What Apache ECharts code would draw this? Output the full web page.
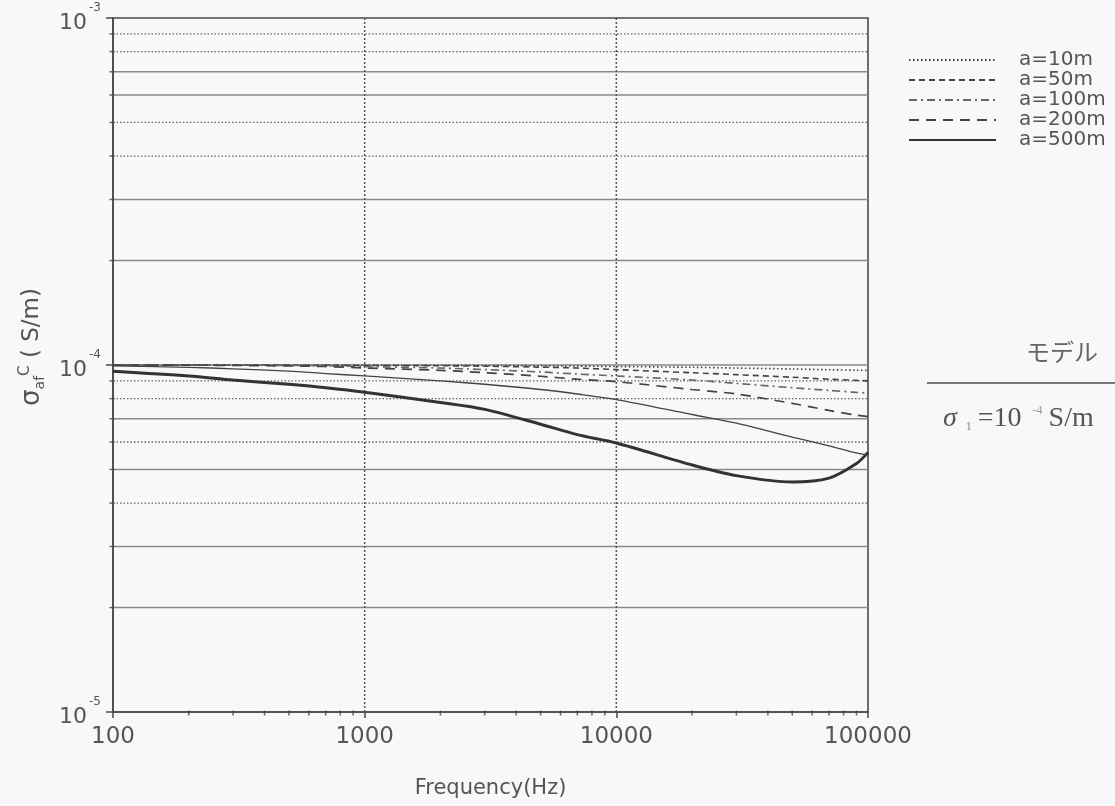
<!DOCTYPE html>
<html>
<head>
<meta charset="utf-8">
<script src="https://cdn.jsdelivr.net/npm/echarts@6/dist/echarts.min.js"></script>
<style>html,body{margin:0;padding:0;background:#f8f7f9;}#c{width:1115px;height:806px;}</style>
</head>
<body>
<div id="c"></div>
<script>
// ---- data ----
var freq = [100, 200, 300, 500, 700, 1000, 2000, 3000, 5000, 7000, 10000, 20000, 30000, 50000, 70000, 90000, 100000];
var a10  = [1.0e-4, 1.0e-4, 1.0e-4, 1.0e-4, 1.0e-4, 9.99e-5, 9.98e-5, 9.97e-5, 9.95e-5, 9.93e-5, 9.9e-5, 9.85e-5, 9.8e-5, 9.74e-5, 9.69e-5, 9.66e-5, 9.65e-5];
var a50  = [1.0e-4, 1.0e-4, 1.0e-4, 9.99e-5, 9.98e-5, 9.97e-5, 9.95e-5, 9.92e-5, 9.86e-5, 9.8e-5, 9.7e-5, 9.5e-5, 9.38e-5, 9.22e-5, 9.1e-5, 9.03e-5, 9.0e-5];
var a100 = [1.0e-4, 1.0e-4, 9.99e-5, 9.97e-5, 9.95e-5, 9.9e-5, 9.8e-5, 9.7e-5, 9.55e-5, 9.42e-5, 9.3e-5, 9.05e-5, 8.85e-5, 8.6e-5, 8.45e-5, 8.34e-5, 8.3e-5];
var a200 = [1.0e-4, 9.99e-5, 9.97e-5, 9.94e-5, 9.9e-5, 9.8e-5, 9.65e-5, 9.5e-5, 9.28e-5, 9.1e-5, 8.95e-5, 8.5e-5, 8.25e-5, 7.75e-5, 7.4e-5, 7.17e-5, 7.1e-5];
var thin = [9.95e-5, 9.85e-5, 9.75e-5, 9.6e-5, 9.45e-5, 9.3e-5, 9.0e-5, 8.8e-5, 8.5e-5, 8.25e-5, 7.95e-5, 7.2e-5, 6.8e-5, 6.2e-5, 5.85e-5, 5.58e-5, 5.5e-5];
var a500 = [9.6e-5, 9.3e-5, 9.05e-5, 8.8e-5, 8.6e-5, 8.35e-5, 7.8e-5, 7.45e-5, 6.75e-5, 6.3e-5, 5.96e-5, 5.15e-5, 4.8e-5, 4.6e-5, 4.72e-5, 5.2e-5, 5.6e-5];
var seriesNames = ['a=10m', 'a=50m', 'a=100m', 'a=200m', 'a=500m'];
var gridDotted = [9e-4, 8e-4, 5e-4, 4e-4, 9e-5, 8e-5, 6e-5, 4e-5];
var gridSolid = [7e-4, 6e-4, 3e-4, 2e-4, 1e-4, 7e-5, 5e-5, 3e-5, 2e-5];
var xGridDotted = [1000, 10000];
var xMinor = [200, 300, 400, 500, 600, 700, 800, 900, 2000, 3000, 4000, 5000, 6000, 7000, 8000, 9000, 20000, 30000, 40000, 50000, 60000, 70000, 80000, 90000];
var yMinor = [2e-5, 3e-5, 4e-5, 5e-5, 6e-5, 7e-5, 8e-5, 9e-5, 2e-4, 3e-4, 4e-4, 5e-4, 6e-4, 7e-4, 8e-4, 9e-4];
var xMin = 100, xMax = 100000, yMin = 1e-5, yMax = 1e-3;

function pairs(arr) { return freq.map(function (f, i) { return [f, arr[i]]; }); }

var chart = echarts.init(document.getElementById('c'), null, {renderer: 'canvas'});
var sans = 'DejaVu Sans';
var txt = '#555';

var lineStyles = [
  {color: '#444', width: 1.6, type: [1.5, 2.5]},
  {color: '#444', width: 1.6, type: [6, 4]},
  {color: '#666', width: 1.6, type: [8, 4, 2, 4]},
  {color: '#444', width: 1.7, type: [10, 7]},
  {color: '#333', width: 3, type: 'solid'}
];
var dataSets = [a10, a50, a100, a200, a500];

var series = [];
// gridlines as plain two-point line series
gridDotted.forEach(function (v) {
  series.push({type: 'line', silent: true, symbol: 'none', z: 1, data: [[xMin, v], [xMax, v]],
    lineStyle: {color: '#666', width: 1.3, type: [1.5, 2]}});
});
gridSolid.forEach(function (v) {
  series.push({type: 'line', silent: true, symbol: 'none', z: 1, data: [[xMin, v], [xMax, v]],
    lineStyle: {color: '#8a8a8a', width: 1.4, type: 'solid'}});
});
xGridDotted.forEach(function (f) {
  series.push({type: 'line', silent: true, symbol: 'none', z: 1, data: [[f, yMin], [f, yMax]],
    lineStyle: {color: '#555', width: 1.5, type: [2, 2]}});
});
dataSets.forEach(function (d, i) {
  series.push({
    name: seriesNames[i], type: 'line', data: pairs(d), symbol: 'none', smooth: 0.3,
    lineStyle: lineStyles[i], itemStyle: {color: lineStyles[i].color}, z: 5
  });
});
// unlabelled thin solid curve
series.push({type: 'line', data: pairs(thin), symbol: 'none', smooth: 0.3, z: 5,
  lineStyle: {color: '#444', width: 1.3, type: 'solid'}});
// minor ticks
series.push({
  type: 'scatter', silent: true, z: 6, symbol: 'rect', symbolSize: [1.5, 5], symbolOffset: [0, 1],
  itemStyle: {color: '#444'},
  data: xMinor.map(function (f) { return [f, yMin]; })
});
series.push({
  type: 'scatter', silent: true, z: 6, symbol: 'rect', symbolSize: [5, 1.5], symbolOffset: [-1, 0],
  itemStyle: {color: '#444'},
  data: yMinor.map(function (v) { return [xMin, v]; })
});

var option = {
  backgroundColor: '#f8f7f9',
  animation: false,
  grid: {left: 113, right: 247, top: 18, bottom: 94, show: true, borderColor: '#4a4a4a', borderWidth: 1.6, backgroundColor: 'transparent'},
  legend: {
    orient: 'vertical', left: 908, top: 50, padding: 0, itemWidth: 87, itemHeight: 14, itemGap: 0,
    itemStyle: {opacity: 0},
    textStyle: {fontFamily: sans, fontSize: 20, color: txt, lineHeight: 14, height: 14, padding: [0, 0, 0, 18]},
    data: seriesNames
  },
  xAxis: {
    type: 'log', logBase: 10, min: xMin, max: xMax,
    name: 'Frequency(Hz)', nameLocation: 'middle', nameGap: 66,
    nameTextStyle: {fontFamily: sans, fontSize: 21, color: txt},
    axisLine: {lineStyle: {color: '#4a4a4a', width: 1.6}},
    axisTick: {show: true, length: 6, lineStyle: {color: '#4a4a4a', width: 1.5}},
    splitLine: {show: false},
    axisLabel: {fontFamily: sans, fontSize: 23, color: txt, margin: 14, formatter: function (v) { return String(Math.round(v)); }}
  },
  yAxis: {
    type: 'log', logBase: 10, min: yMin, max: yMax,
    name: '{s|σ}{sub|af}{sup|C}{t| ( S/m)}', nameLocation: 'middle', nameGap: 66, nameRotate: 90,
    nameTextStyle: {
      padding: [0, 0, 0, 36],
      rich: {
        s: {fontFamily: sans, fontSize: 26, color: txt},
        sub: {fontFamily: sans, fontSize: 14, color: txt, verticalAlign: 'bottom', padding: [12, 0, 0, 0]},
        sup: {fontFamily: sans, fontSize: 15, color: txt, verticalAlign: 'top', padding: [0, 0, 14, 0]},
        t: {fontFamily: sans, fontSize: 23, color: txt}
      }
    },
    axisLine: {lineStyle: {color: '#4a4a4a', width: 1.6}},
    axisTick: {show: true, length: 7, lineStyle: {color: '#4a4a4a', width: 1.5}},
    splitLine: {show: false},
    axisLabel: {
      margin: 12,
      formatter: function (v) { var e = Math.round(Math.log10(v)); return '{b|10}{s|' + e + '}'; },
      rich: {
        b: {fontFamily: sans, fontSize: 22, color: txt, padding: [10, 0, 0, 0]},
        s: {fontFamily: sans, fontSize: 12, color: txt, verticalAlign: 'top', padding: [0, 0, 6, 2]}
      }
    }
  },
  graphic: [
    {type: 'text', left: 1026, top: 340, style: {text: 'モデル', font: '24px "Noto Sans CJK JP"', fill: '#666'}},
    {type: 'line', shape: {x1: 927, y1: 383, x2: 1115, y2: 383}, style: {stroke: '#777', lineWidth: 2}},
    {type: 'text', left: 943, top: 405, style: {
      text: '{a|σ}{b| 1}{c|=10}{d| -4}{c|S/m}',
      rich: {
        a: {fontFamily: 'Liberation Serif', fontSize: 28, fontStyle: 'italic', fill: '#555'},
        b: {fontFamily: 'Liberation Serif', fontSize: 12, fill: '#888', verticalAlign: 'bottom', padding: [10, 6, 0, 6]},
        c: {fontFamily: 'Liberation Serif', fontSize: 28, fill: '#555'},
        d: {fontFamily: 'Liberation Serif', fontSize: 12, fill: '#999', verticalAlign: 'top', padding: [0, 6, 12, 8]}
      }
    }}
  ],
  series: series
};
chart.setOption(option);
</script>
</body>
</html>
